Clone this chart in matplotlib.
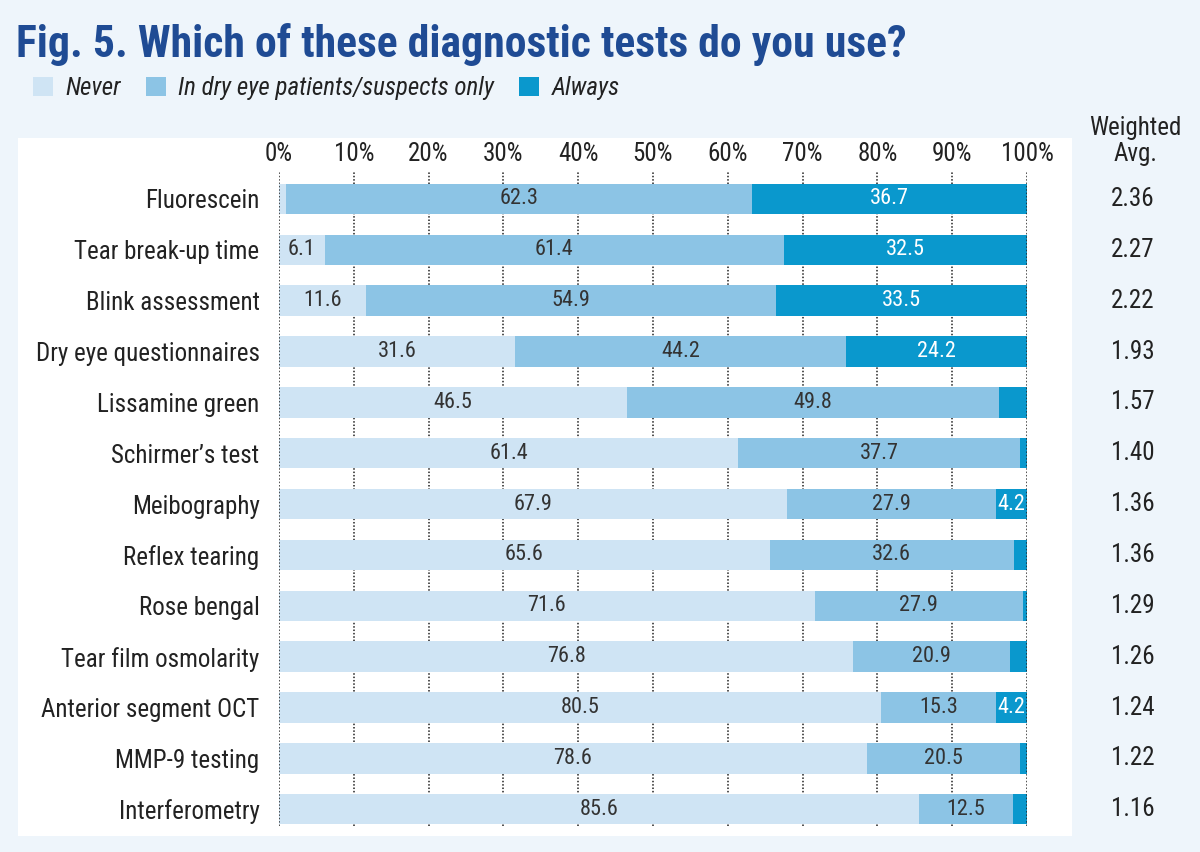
import matplotlib
matplotlib.use("Agg")
import matplotlib.pyplot as plt
import matplotlib.transforms as mtransforms
from matplotlib import font_manager
from matplotlib.patches import Rectangle, Patch
import numpy as np

# data
tests = ["Fluorescein", "Tear break-up time", "Blink assessment", "Dry eye questionnaires",
         "Lissamine green", "Schirmer\u2019s test", "Meibography", "Reflex tearing",
         "Rose bengal", "Tear film osmolarity", "Anterior segment OCT", "MMP-9 testing",
         "Interferometry"]
never = [1.0, 6.1, 11.6, 31.6, 46.5, 61.4, 67.9, 65.6, 71.6, 76.8, 80.5, 78.6, 85.6]
dry_only = [62.3, 61.4, 54.9, 44.2, 49.8, 37.7, 27.9, 32.6, 27.9, 20.9, 15.3, 20.5, 12.5]
always = [36.7, 32.5, 33.5, 24.2, 3.7, 0.9, 4.2, 1.8, 0.5, 2.3, 4.2, 0.9, 1.9]
weighted = ["2.36", "2.27", "2.22", "1.93", "1.57", "1.40", "1.36", "1.36", "1.29",
            "1.26", "1.24", "1.22", "1.16"]
series_names = ["Never", "In dry eye patients/suspects only", "Always"]
colors = ["#cfe4f4", "#8cc4e5", "#0a98cd"]

# pick a narrow font if one is around
names = {f.name for f in font_manager.fontManager.ttflist}
font = "Roboto"
for cand in ["Roboto Condensed", "Liberation Sans Narrow", "Open Sans Condensed"]:
    if cand in names:
        font = cand
        break
plt.rcParams["font.family"] = [font, "DejaVu Sans"]

W, H = 1200, 852
fig = plt.figure(figsize=(12, 8.52), dpi=100, facecolor="#eef5fb")

# white panel
fig.patches.append(Rectangle((18 / W, 1 - 836 / H), (1072 - 18) / W, (836 - 138) / H,
                             transform=fig.transFigure, facecolor="white",
                             edgecolor="none", zorder=-1))

ax = fig.add_axes([279 / W, 1 - 826 / H, (1027 - 279) / W, (826 - 172) / H])
ax.set_facecolor("none")
y = np.arange(len(tests))
left = np.zeros(len(tests))
for vals, col, i in zip([never, dry_only, always], colors, range(3)):
    vals = np.array(vals)
    ax.barh(y, vals, left=left, height=0.6, color=col, zorder=2)
    for yi, (l, v) in enumerate(zip(left, vals)):
        if v >= 4:
            ax.text(l + v / 2, yi, f"{v:.1f}", ha="center", va="center", fontsize=16,
                    color="white" if i == 2 else "#333333", zorder=3)
    left = left + vals

ax.set_xlim(0, 100)
ax.set_ylim(12.33, -0.53)
ax.set_xticks(np.arange(0, 101, 10))
ax.set_xticklabels([f"{t}%" for t in range(0, 101, 10)])
ax.xaxis.tick_top()
ax.tick_params(axis="x", length=0, pad=4, labelsize=18, labelcolor="#222222")
ax.set_yticks(y)
ax.set_yticklabels(tests)
ax.tick_params(axis="y", length=0, pad=14, labelsize=18, labelcolor="#222222")
for s in ax.spines.values():
    s.set_visible(False)
# dotted gridlines, the outer two sit over the bars
for t in range(0, 101, 10):
    ax.axvline(t, color="#222222", lw=1.1, linestyle=(0, (1, 1.2)),
               zorder=4 if t in (0, 100) else 1)

# weighted average column
trans = mtransforms.blended_transform_factory(fig.transFigure, ax.transData)
for yi, w in enumerate(weighted):
    ax.text(1133 / W, yi, w, transform=trans, ha="center", va="center", fontsize=18,
            color="#222222", clip_on=False)
fig.text(1135 / W, 1 - 141 / H, "Weighted\nAvg.", ha="center", va="center", fontsize=18,
         color="#222222", linespacing=1.1)

# title and legend
fig.text(16 / W, 1 - 45 / H, "Fig. 5. Which of these diagnostic tests do you use?",
         ha="left", va="center", fontsize=31.5, fontweight="bold", color="#1f4b94")
handles = [Patch(facecolor=c, edgecolor="none") for c in colors]
fig.legend(handles, series_names, loc="center left", bbox_to_anchor=(10 / W, 1 - 88 / H),
           ncol=3, frameon=False, handlelength=0.8, handleheight=0.8, handletextpad=0.5,
           columnspacing=1.0, prop={"size": 18, "style": "italic"}, labelcolor="#222222")

fig.savefig("out.png", dpi=100, facecolor=fig.get_facecolor())
